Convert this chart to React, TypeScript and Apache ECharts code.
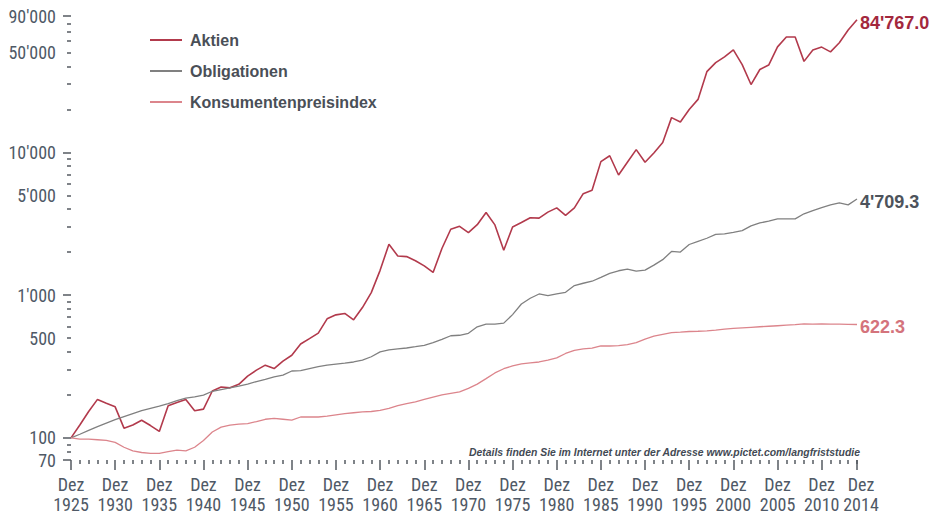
import React, { useEffect, useRef } from "react";
import * as echarts from "echarts";

const years: number[] = Array.from({ length: 90 }, (_, i) => 1925 + i);

const aktien: number[] = [
  100, 123, 153, 186, 175, 165, 117, 123, 133, 122,
  111, 168, 177, 186, 155, 159, 213, 227, 224, 237,
  271, 298, 323, 306, 345, 379, 454, 495, 542, 682,
  727, 744, 671, 818, 1041, 1490, 2270, 1880, 1860, 1740,
  1600, 1440, 2120, 2890, 3030, 2740, 3110, 3790, 3100, 2060,
  3000, 3220, 3480, 3460, 3810, 4080, 3620, 4080, 5130, 5420,
  8600, 9460, 6930, 8510, 10430, 8510, 9880, 11700, 17480, 16290,
  19950, 23460, 36700, 42400, 46600, 52100, 41100, 29800, 38000, 40800,
  54700, 64200, 64200, 43300, 52100, 54500, 50500, 58500, 71800, 84767.0,
];

const obligationen: number[] = [
  100, 106, 113, 120, 127, 134, 141, 148, 155, 161,
  167, 174, 182, 190, 194, 199, 212, 218, 224, 230,
  238, 248, 257, 267, 275, 294, 296, 306, 315, 323,
  329, 334, 340, 350, 370, 400, 413, 420, 426, 435,
  445, 465, 490, 519, 523, 540, 600, 627, 627, 636,
  730, 866, 950, 1018, 990, 1020, 1046, 1165, 1210, 1250,
  1330, 1420, 1480, 1520, 1470, 1495, 1620, 1770, 2020, 2000,
  2260, 2380, 2500, 2660, 2680, 2750, 2830, 3050, 3200, 3300,
  3420, 3420, 3420, 3710, 3900, 4100, 4280, 4420, 4280, 4709.3,
];

const kpi: number[] = [
  100, 98, 98, 97, 96, 93, 86, 81, 79, 78,
  78, 80, 82, 81, 86, 96, 110, 119, 123, 125,
  126, 130, 135, 137, 135, 133, 140, 140, 140, 142,
  145, 148, 150, 152, 153, 156, 161, 168, 174, 179,
  186, 193, 200, 205, 210, 222, 238, 260, 285, 305,
  319, 330, 335, 340, 350, 363, 390, 410, 420, 425,
  440, 440, 442, 450, 465, 492, 515, 530, 545, 550,
  556, 558, 562, 568, 578, 585, 590, 595, 600, 605,
  610, 615, 620, 628, 625, 628, 627, 625, 623, 622.3,
];

const seriesNames: string[] = ["Aktien", "Obligationen", "Konsumentenpreisindex"];
const xLabelYears: number[] = [
  1925, 1930, 1935, 1940, 1945, 1950, 1955, 1960, 1965, 1970,
  1975, 1980, 1985, 1990, 1995, 2000, 2005, 2010,
];
const xEndYear: number[] = [2014];
const yLabelValues: number[] = [70, 100, 500, 1000, 5000, 10000, 50000, 90000];
const yMajorTicks: number[] = [70, 100, 1000, 10000, 90000];
const yMinorTicks: number[] = [
  80, 90, 200, 300, 400, 500, 600, 700, 800, 900,
  2000, 3000, 4000, 5000, 6000, 7000, 8000, 9000,
  20000, 30000, 40000, 50000, 60000, 70000, 80000,
];
const yMin = 70;
const yMax = 90000;
const xMin = 1925;
const xMax = 2014.0001;
const noteText = "Details finden Sie im Internet unter der Adresse www.pictet.com/langfriststudie";

const withSep = (s: string) => s.replace(/\B(?=(\d{3})+(?!\d))/g, "'");
const fmtInt = (v: number) => withSep(String(Math.round(v)));
const fmtDec = (v: number) => {
  const [a, b] = v.toFixed(1).split(".");
  return withSep(a) + "." + b;
};

const NARROW = "'Liberation Sans Narrow', 'Roboto Condensed', 'DejaVu Sans Condensed', sans-serif";
const BOLD = "'Liberation Sans', Arial, sans-serif";
const AXIS_TXT = "#4f5966";
const TICK = "#555a60";
const NOTE_FONT = "italic bold 11px 'Liberation Sans Narrow', 'Liberation Sans', sans-serif";
const NOTE_WIDTH = 392;

export default function App() {
  const ref = useRef<HTMLDivElement>(null);
  useEffect(() => {
    if (!ref.current) return;
    const chart = echarts.init(ref.current, null, { renderer: "svg" });
    const L = Math.log10;
    const colors = ["#b23a4c", "#808080", "#dc858c"];
    const labelColors = ["#a3283d", "#4d535b", "#d4737c"];
    const datasets = [aktien, obligationen, kpi];
    const widths = [1.6, 1.3, 1.3];

    let noteScale = 1;
    const ctx = document.createElement("canvas").getContext("2d");
    if (ctx) {
      ctx.font = NOTE_FONT;
      const w = ctx.measureText(noteText).width;
      if (w > 0) noteScale = NOTE_WIDTH / w;
    }

    const xLabelBase = {
      margin: 14,
      showMaxLabel: true,
      showMinLabel: true,
      hideOverlap: false,
      formatter: (v: number) => "Dez\n" + Math.round(v),
      fontFamily: NARROW,
      fontSize: 18,
      lineHeight: 20,
      color: AXIS_TXT,
    };

    chart.setOption({
      animation: false,
      backgroundColor: "#ffffff",
      grid: { left: 71, right: 75, top: 16, bottom: 51, containLabel: false },
      legend: {
        orient: "vertical",
        left: 150,
        top: 32,
        padding: 0,
        icon: "rect",
        itemWidth: 32,
        itemHeight: 2,
        itemGap: 15,
        data: seriesNames,
        textStyle: { fontFamily: BOLD, fontWeight: "bold", fontSize: 16, color: "#4a4f57", padding: [0, 0, 0, 3] },
      },
      xAxis: [
        {
          type: "value",
          min: xMin,
          max: xMax,
          interval: 5,
          position: "bottom",
          axisLine: { show: false },
          splitLine: { show: false },
          axisTick: { show: true, length: 10, customValues: xLabelYears, lineStyle: { color: TICK, width: 1.5 } },
          minorTick: { show: true, splitNumber: 5, length: 4, lineStyle: { color: TICK, width: 1.5 } },
          axisLabel: { ...xLabelBase, customValues: xLabelYears },
        },
        {
          type: "value",
          min: xMin,
          max: xMax,
          interval: 5,
          position: "bottom",
          offset: 0,
          axisLine: { show: false },
          splitLine: { show: false },
          axisTick: { show: true, length: 10, customValues: xEndYear, lineStyle: { color: TICK, width: 1.5 } },
          axisLabel: { ...xLabelBase, customValues: xEndYear, padding: [0, 0, 0, 8] },
        },
      ],
      yAxis: [
        {
          type: "value",
          min: L(yMin),
          max: L(yMax),
          position: "left",
          axisLine: { show: false },
          splitLine: { show: false },
          axisTick: { show: true, length: 8, customValues: yMajorTicks.map(L), lineStyle: { color: TICK, width: 1.5 } },
          axisLabel: {
            margin: 15,
            customValues: yLabelValues.map(L),
            formatter: (v: number) => fmtInt(Math.pow(10, v)),
            fontFamily: NARROW,
            fontSize: 18,
            color: AXIS_TXT,
          },
        },
        {
          type: "value",
          min: L(yMin),
          max: L(yMax),
          position: "left",
          axisLine: { show: false },
          splitLine: { show: false },
          axisLabel: { show: false },
          axisTick: { show: true, length: 4, customValues: yMinorTicks.map(L), lineStyle: { color: TICK, width: 1.5 } },
        },
      ],
      graphic: [
        {
          type: "text",
          x: 860,
          y: 452,
          scaleX: noteScale,
          style: {
            text: noteText,
            font: NOTE_FONT,
            fill: "#434a54",
            align: "right",
            verticalAlign: "middle",
          },
        },
      ],
      series: datasets.map((d, k) => ({
        name: seriesNames[k],
        type: "line",
        xAxisIndex: 0,
        yAxisIndex: 0,
        data: d.map((v, i) => [years[i], L(v)]),
        symbol: "none",
        lineStyle: { color: colors[k], width: widths[k] },
        itemStyle: { color: colors[k] },
        endLabel: {
          show: true,
          formatter: () => fmtDec(d[d.length - 1]),
          fontFamily: BOLD,
          fontWeight: "bold",
          fontSize: 18,
          color: labelColors[k],
          distance: 3,
          offset: [0, 3],
        },
      })),
    });
    return () => chart.dispose();
  }, []);
  return <div ref={ref} style={{ position: "fixed", left: 0, top: 0, width: 932, height: 514 }} />;
}
